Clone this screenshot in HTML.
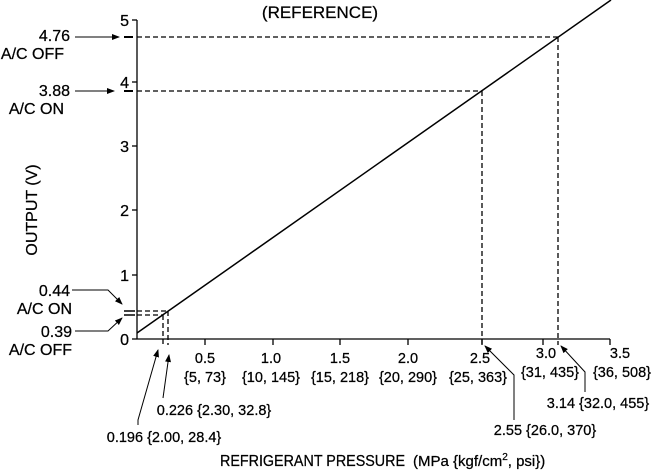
<!DOCTYPE html>
<html><head><meta charset="utf-8"><style>
html,body{margin:0;padding:0;background:#fff;}
svg{display:block;font-family:"Liberation Sans",Arial,sans-serif;}
</style></head><body>
<svg width="655" height="470" viewBox="0 0 655 470">
<defs><marker id="a" markerWidth="8" markerHeight="6" refX="7" refY="3" orient="auto" markerUnits="userSpaceOnUse"><path d="M0,0 L8,3 L0,6 Z" fill="#000"/></marker></defs>
<g stroke="#000" fill="none" stroke-width="1.3">
<line x1="137" y1="20" x2="137" y2="339"/>
<line x1="137" y1="339" x2="610" y2="339"/>
<line x1="132" y1="20" x2="137" y2="20"/><line x1="132" y1="82" x2="137" y2="82"/><line x1="132" y1="146" x2="137" y2="146"/><line x1="132" y1="210" x2="137" y2="210"/><line x1="132" y1="275" x2="137" y2="275"/><line x1="132" y1="339" x2="137" y2="339"/>
<line x1="205" y1="339" x2="205" y2="345"/><line x1="273" y1="339" x2="273" y2="345"/><line x1="340" y1="339" x2="340" y2="345"/><line x1="408" y1="339" x2="408" y2="345"/><line x1="482" y1="339" x2="482" y2="345"/><line x1="543" y1="339" x2="543" y2="345"/><line x1="610" y1="339" x2="610" y2="345"/>
<line x1="137" y1="333" x2="611" y2="0" stroke-width="1.5"/>
<g stroke-dasharray="5,3">
<line x1="137" y1="37" x2="558" y2="37"/><line x1="558" y1="37" x2="558" y2="345"/>
<line x1="137" y1="91" x2="482" y2="91"/><line x1="482" y1="91" x2="482" y2="345"/>
<line x1="137" y1="311" x2="168" y2="311"/><line x1="137" y1="315" x2="163" y2="315"/>
<line x1="163" y1="315" x2="163" y2="345"/><line x1="168" y1="311" x2="168" y2="345"/>
</g>
<line x1="124" y1="37" x2="133" y2="37" stroke-width="2"/>
<line x1="124" y1="91" x2="133" y2="91" stroke-width="2"/>
<line x1="124" y1="311" x2="135" y2="311" stroke-width="1.5"/><line x1="124" y1="315" x2="135" y2="315" stroke-width="1.5"/>
<g stroke-width="1" marker-end="url(#a)">
<line x1="75" y1="37" x2="119" y2="37"/>
<line x1="75" y1="91" x2="114" y2="91"/>
<polyline points="72,290 108,290 122,304"/>
<polyline points="75,331 108,331 122,318"/>
<polyline points="138,425 138,420 158,350"/>
<line x1="163" y1="398" x2="169" y2="355"/>
<polyline points="514,420 514,375 485,346"/>
<polyline points="585,392 585,372 561,346"/>
</g>
</g>
<g font-size="16" fill="#000" stroke="#000" stroke-width="0.25">
<text x="320" y="18" text-anchor="middle" font-size="17">(REFERENCE)</text>
<g text-anchor="end">
<text x="129" y="26">5</text><text x="129" y="88">4</text><text x="129" y="152">3</text><text x="129" y="216">2</text><text x="129" y="281">1</text><text x="129" y="345">0</text>
<text x="70" y="41">4.76</text><text x="64" y="59">A/C OFF</text>
<text x="70" y="96">3.88</text><text x="64" y="114">A/C ON</text>
<text x="70" y="296">0.44</text><text x="72" y="314">A/C ON</text>
<text x="72" y="337">0.39</text><text x="72" y="355">A/C OFF</text>
</g>
<g text-anchor="middle" font-size="14.5">
<text x="205" y="363">0.5</text><text x="205" y="382">{5, 73}</text>
<text x="271" y="363">1.0</text><text x="271" y="382">{10, 145}</text>
<text x="340" y="363">1.5</text><text x="340" y="382">{15, 218}</text>
<text x="408" y="363">2.0</text><text x="408" y="382">{20, 290}</text>
<text x="480" y="363">2.5</text><text x="478" y="382">{25, 363}</text>
<text x="546" y="358">3.0</text><text x="550" y="377">{31, 435}</text>
<text x="620" y="358">3.5</text><text x="622" y="377">{36, 508}</text>
<text x="214" y="415">0.226 {2.30, 32.8}</text>
<text x="164" y="442">0.196 {2.00, 28.4}</text>
<text x="545" y="435">2.55 {26.0, 370}</text>
<text x="598" y="408">3.14 {32.0, 455}</text>
</g>
<text transform="translate(37,210) rotate(-90)" text-anchor="middle" font-size="16">OUTPUT (V)</text>
<text x="220" y="466" font-size="16" textLength="185" lengthAdjust="spacingAndGlyphs">REFRIGERANT PRESSURE</text>
<text x="413" y="466" font-size="15">(MPa {kgf/cm<tspan font-size="10" dy="-6">2</tspan><tspan dy="6">, psi})</tspan></text>
</g>
</svg>
</body></html>
